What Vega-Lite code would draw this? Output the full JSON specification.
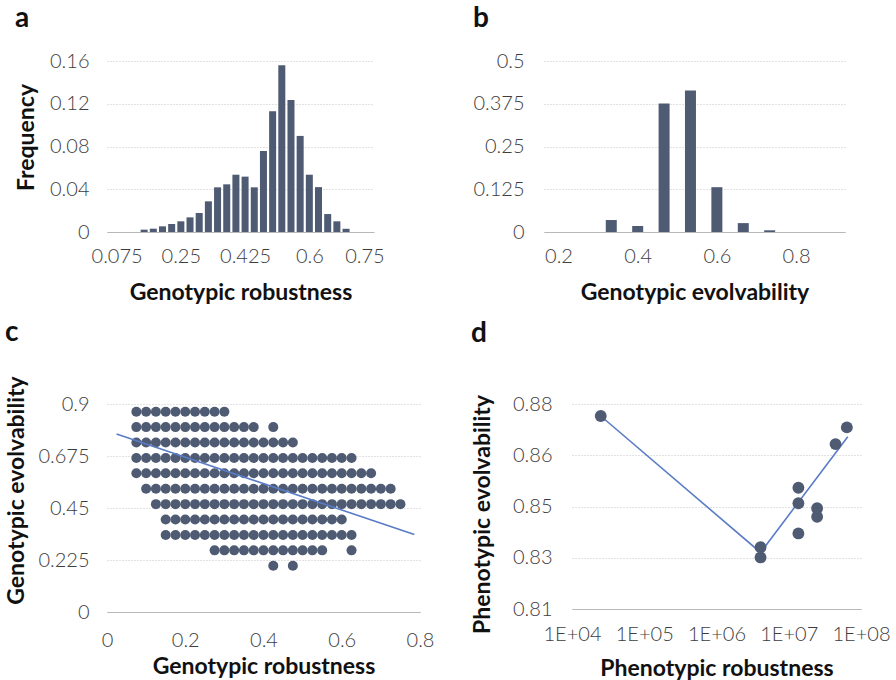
{
  "$schema": "https://vega.github.io/schema/vega-lite/v6.json",
  "background": "white",
  "padding": 5,
  "datasets": {
    "hist_a": [
      {"bin": 0.15, "freq": 0.0022}, {"bin": 0.175, "freq": 0.0031}, {"bin": 0.2, "freq": 0.0053},
      {"bin": 0.225, "freq": 0.0075}, {"bin": 0.25, "freq": 0.010}, {"bin": 0.275, "freq": 0.0137},
      {"bin": 0.3, "freq": 0.0178}, {"bin": 0.325, "freq": 0.0287}, {"bin": 0.35, "freq": 0.0418},
      {"bin": 0.375, "freq": 0.0446}, {"bin": 0.4, "freq": 0.0536}, {"bin": 0.425, "freq": 0.0518},
      {"bin": 0.45, "freq": 0.0418}, {"bin": 0.475, "freq": 0.0758}, {"bin": 0.5, "freq": 0.113},
      {"bin": 0.525, "freq": 0.156}, {"bin": 0.55, "freq": 0.1236}, {"bin": 0.575, "freq": 0.0899},
      {"bin": 0.6, "freq": 0.0536}, {"bin": 0.625, "freq": 0.042}, {"bin": 0.65, "freq": 0.0168},
      {"bin": 0.675, "freq": 0.010}, {"bin": 0.7, "freq": 0.003}
    ],
    "hist_b": [
      {"bin": 0.3333, "freq": 0.035}, {"bin": 0.4, "freq": 0.0175}, {"bin": 0.4667, "freq": 0.3755},
      {"bin": 0.5333, "freq": 0.414}, {"bin": 0.6, "freq": 0.131}, {"bin": 0.6667, "freq": 0.026},
      {"bin": 0.7333, "freq": 0.005}
    ],
    "dots_c": [
      {"r":0.075,"e":0.8667},{"r":0.1,"e":0.8667},{"r":0.125,"e":0.8667},{"r":0.15,"e":0.8667},{"r":0.175,"e":0.8667},{"r":0.2,"e":0.8667},{"r":0.225,"e":0.8667},{"r":0.25,"e":0.8667},{"r":0.275,"e":0.8667},{"r":0.3,"e":0.8667},
      {"r":0.075,"e":0.8},{"r":0.1,"e":0.8},{"r":0.125,"e":0.8},{"r":0.15,"e":0.8},{"r":0.175,"e":0.8},{"r":0.2,"e":0.8},{"r":0.225,"e":0.8},{"r":0.25,"e":0.8},{"r":0.275,"e":0.8},{"r":0.3,"e":0.8},{"r":0.325,"e":0.8},{"r":0.35,"e":0.8},{"r":0.375,"e":0.8},{"r":0.425,"e":0.8},
      {"r":0.075,"e":0.7333},{"r":0.1,"e":0.7333},{"r":0.125,"e":0.7333},{"r":0.15,"e":0.7333},{"r":0.175,"e":0.7333},{"r":0.2,"e":0.7333},{"r":0.225,"e":0.7333},{"r":0.25,"e":0.7333},{"r":0.275,"e":0.7333},{"r":0.3,"e":0.7333},{"r":0.325,"e":0.7333},{"r":0.35,"e":0.7333},{"r":0.375,"e":0.7333},{"r":0.4,"e":0.7333},{"r":0.425,"e":0.7333},{"r":0.45,"e":0.7333},{"r":0.475,"e":0.7333},
      {"r":0.075,"e":0.6667},{"r":0.1,"e":0.6667},{"r":0.125,"e":0.6667},{"r":0.15,"e":0.6667},{"r":0.175,"e":0.6667},{"r":0.2,"e":0.6667},{"r":0.225,"e":0.6667},{"r":0.25,"e":0.6667},{"r":0.275,"e":0.6667},{"r":0.3,"e":0.6667},{"r":0.325,"e":0.6667},{"r":0.35,"e":0.6667},{"r":0.375,"e":0.6667},{"r":0.4,"e":0.6667},{"r":0.425,"e":0.6667},{"r":0.45,"e":0.6667},{"r":0.475,"e":0.6667},{"r":0.5,"e":0.6667},{"r":0.525,"e":0.6667},{"r":0.55,"e":0.6667},{"r":0.575,"e":0.6667},{"r":0.6,"e":0.6667},{"r":0.625,"e":0.6667},
      {"r":0.075,"e":0.6},{"r":0.1,"e":0.6},{"r":0.125,"e":0.6},{"r":0.15,"e":0.6},{"r":0.175,"e":0.6},{"r":0.2,"e":0.6},{"r":0.225,"e":0.6},{"r":0.25,"e":0.6},{"r":0.275,"e":0.6},{"r":0.3,"e":0.6},{"r":0.325,"e":0.6},{"r":0.35,"e":0.6},{"r":0.375,"e":0.6},{"r":0.4,"e":0.6},{"r":0.425,"e":0.6},{"r":0.45,"e":0.6},{"r":0.475,"e":0.6},{"r":0.5,"e":0.6},{"r":0.525,"e":0.6},{"r":0.55,"e":0.6},{"r":0.575,"e":0.6},{"r":0.6,"e":0.6},{"r":0.625,"e":0.6},{"r":0.65,"e":0.6},{"r":0.675,"e":0.6},
      {"r":0.1,"e":0.5333},{"r":0.125,"e":0.5333},{"r":0.15,"e":0.5333},{"r":0.175,"e":0.5333},{"r":0.2,"e":0.5333},{"r":0.225,"e":0.5333},{"r":0.25,"e":0.5333},{"r":0.275,"e":0.5333},{"r":0.3,"e":0.5333},{"r":0.325,"e":0.5333},{"r":0.35,"e":0.5333},{"r":0.375,"e":0.5333},{"r":0.4,"e":0.5333},{"r":0.425,"e":0.5333},{"r":0.45,"e":0.5333},{"r":0.475,"e":0.5333},{"r":0.5,"e":0.5333},{"r":0.525,"e":0.5333},{"r":0.55,"e":0.5333},{"r":0.575,"e":0.5333},{"r":0.6,"e":0.5333},{"r":0.625,"e":0.5333},{"r":0.65,"e":0.5333},{"r":0.675,"e":0.5333},{"r":0.7,"e":0.5333},{"r":0.725,"e":0.5333},
      {"r":0.125,"e":0.4667},{"r":0.15,"e":0.4667},{"r":0.175,"e":0.4667},{"r":0.2,"e":0.4667},{"r":0.225,"e":0.4667},{"r":0.25,"e":0.4667},{"r":0.275,"e":0.4667},{"r":0.3,"e":0.4667},{"r":0.325,"e":0.4667},{"r":0.35,"e":0.4667},{"r":0.375,"e":0.4667},{"r":0.4,"e":0.4667},{"r":0.425,"e":0.4667},{"r":0.45,"e":0.4667},{"r":0.475,"e":0.4667},{"r":0.5,"e":0.4667},{"r":0.525,"e":0.4667},{"r":0.55,"e":0.4667},{"r":0.575,"e":0.4667},{"r":0.6,"e":0.4667},{"r":0.625,"e":0.4667},{"r":0.65,"e":0.4667},{"r":0.675,"e":0.4667},{"r":0.7,"e":0.4667},{"r":0.725,"e":0.4667},{"r":0.75,"e":0.4667},
      {"r":0.15,"e":0.4},{"r":0.175,"e":0.4},{"r":0.2,"e":0.4},{"r":0.225,"e":0.4},{"r":0.25,"e":0.4},{"r":0.275,"e":0.4},{"r":0.3,"e":0.4},{"r":0.325,"e":0.4},{"r":0.35,"e":0.4},{"r":0.375,"e":0.4},{"r":0.4,"e":0.4},{"r":0.425,"e":0.4},{"r":0.45,"e":0.4},{"r":0.475,"e":0.4},{"r":0.5,"e":0.4},{"r":0.525,"e":0.4},{"r":0.55,"e":0.4},{"r":0.575,"e":0.4},{"r":0.6,"e":0.4},
      {"r":0.15,"e":0.3333},{"r":0.175,"e":0.3333},{"r":0.2,"e":0.3333},{"r":0.225,"e":0.3333},{"r":0.25,"e":0.3333},{"r":0.275,"e":0.3333},{"r":0.3,"e":0.3333},{"r":0.325,"e":0.3333},{"r":0.35,"e":0.3333},{"r":0.375,"e":0.3333},{"r":0.4,"e":0.3333},{"r":0.425,"e":0.3333},{"r":0.45,"e":0.3333},{"r":0.475,"e":0.3333},{"r":0.5,"e":0.3333},{"r":0.525,"e":0.3333},{"r":0.55,"e":0.3333},{"r":0.575,"e":0.3333},{"r":0.6,"e":0.3333},{"r":0.625,"e":0.3333},
      {"r":0.275,"e":0.2667},{"r":0.3,"e":0.2667},{"r":0.325,"e":0.2667},{"r":0.35,"e":0.2667},{"r":0.375,"e":0.2667},{"r":0.4,"e":0.2667},{"r":0.425,"e":0.2667},{"r":0.45,"e":0.2667},{"r":0.475,"e":0.2667},{"r":0.5,"e":0.2667},{"r":0.525,"e":0.2667},{"r":0.55,"e":0.2667},{"r":0.625,"e":0.2667},
      {"r":0.425,"e":0.2},{"r":0.475,"e":0.2}
    ],
    "trend_c": [
      {"r": 0.0245, "e": 0.770},
      {"r": 0.7855, "e": 0.3354}
    ],
    "pts_d": [
      {"rob": 25000, "evo": 0.8759},
      {"rob": 4070000, "evo": 0.8311},
      {"rob": 4070000, "evo": 0.8276},
      {"rob": 13600000, "evo": 0.8514},
      {"rob": 13600000, "evo": 0.8461},
      {"rob": 13600000, "evo": 0.8358},
      {"rob": 24700000, "evo": 0.8444},
      {"rob": 24700000, "evo": 0.8415},
      {"rob": 44400000, "evo": 0.8663},
      {"rob": 63700000, "evo": 0.8720}
    ],
    "line_d": [
      {"rob": 25000, "evo": 0.8759, "k": 1},
      {"rob": 4070000, "evo": 0.8293, "k": 2},
      {"rob": 65600000, "evo": 0.8688, "k": 3}
    ]
  },
  "vconcat": [
    {
      "hconcat": [
        {
          "title": {"text": "a", "offset": 18},
          "width": 267,
          "height": 171,
          "data": {"name": "hist_a"},
          "mark": {"type": "bar", "size": 7, "color": "#4e5b73"},
          "encoding": {
            "x": {"field": "bin", "type": "quantitative", "scale": {"domain": [0.0625, 0.7625], "nice": false, "zero": false},
                  "axis": {"values": [0.075, 0.25, 0.425, 0.6, 0.75], "format": ".3~f", "title": "Genotypic robustness", "labelPadding": 14, "titlePadding": 15}},
            "y": {"field": "freq", "type": "quantitative", "scale": {"domain": [0, 0.16], "nice": false},
                  "axis": {"values": [0, 0.04, 0.08, 0.12, 0.16], "format": ".2~f", "title": "Frequency", "minExtent": 56, "maxExtent": 56, "titlePadding": 13, "titleY": 76}}
          }
        },
        {
          "title": {"text": "b", "offset": 18},
          "width": 301,
          "height": 171,
          "data": {"name": "hist_b"},
          "mark": {"type": "bar", "size": 11, "color": "#4e5b73"},
          "encoding": {
            "x": {"field": "bin", "type": "quantitative", "scale": {"domain": [0.176, 0.911], "nice": false, "zero": false},
                  "axis": {"values": [0.2, 0.4, 0.6, 0.8], "format": ".1f", "title": "Genotypic evolvability", "labelPadding": 14, "titlePadding": 15}},
            "y": {"field": "freq", "type": "quantitative", "scale": {"domain": [0, 0.5], "nice": false},
                  "axis": {"values": [0, 0.125, 0.25, 0.375, 0.5], "format": ".3~f", "title": null, "labelPadding": 20}}
          }
        }
      ],
      "spacing": 87
    },
    {
      "hconcat": [
        {
          "title": {"text": "c", "offset": 29},
          "width": 313,
          "height": 208,
          "layer": [
            {
              "data": {"name": "dots_c"},
              "mark": {"type": "circle", "size": 100, "opacity": 1, "color": "#4e5b73"},
              "encoding": {
                "x": {"field": "r", "type": "quantitative", "scale": {"domain": [0, 0.8], "nice": false},
                      "axis": {"values": [0, 0.2, 0.4, 0.6, 0.8], "format": ".1~f", "title": "Genotypic robustness", "labelPadding": 18, "titlePadding": 5}},
                "y": {"field": "e", "type": "quantitative", "scale": {"domain": [0, 0.9], "nice": false},
                      "axis": {"values": [0, 0.225, 0.45, 0.675, 0.9], "format": ".3~f", "title": "Genotypic evolvability", "minExtent": 66, "maxExtent": 66, "titlePadding": 13, "titleY": 86}}
              }
            },
            {
              "data": {"name": "trend_c"},
              "mark": {"type": "line", "color": "#5a7cc6", "strokeWidth": 1.6},
              "encoding": {
                "x": {"field": "r", "type": "quantitative"},
                "y": {"field": "e", "type": "quantitative"}
              }
            }
          ]
        },
        {
          "title": {"text": "d", "offset": 46},
          "width": 289,
          "height": 205,
          "layer": [
            {
              "data": {"name": "line_d"},
              "mark": {"type": "line", "color": "#5a7cc6", "strokeWidth": 1.6},
              "encoding": {
                "x": {"field": "rob", "type": "quantitative", "scale": {"type": "log", "domain": [10000, 100000000], "nice": false},
                      "axis": {"values": [10000, 100000, 1000000, 10000000, 100000000], "labelExpr": "'1E+0' + format(log(datum.value)/LN10, '.0f')", "labelOverlap": false, "labelBound": false, "title": "Phenotypic robustness", "labelPadding": 15, "titlePadding": 13}},
                "y": {"field": "evo", "type": "quantitative", "scale": {"domain": [0.81, 0.88], "nice": false, "zero": false},
                      "axis": {"values": [0.81, 0.8275, 0.845, 0.8625, 0.88], "labelExpr": "format(datum.value + 0.0001, '.2f')", "title": "Phenotypic evolvability", "labelPadding": 20, "minExtent": 57, "maxExtent": 57, "titlePadding": 21, "titleY": 110}},
                "order": {"field": "k"}
              }
            },
            {
              "data": {"name": "pts_d"},
              "mark": {"type": "circle", "size": 140, "opacity": 1, "color": "#4e5b73"},
              "encoding": {
                "x": {"field": "rob", "type": "quantitative"},
                "y": {"field": "evo", "type": "quantitative"}
              }
            }
          ]
        }
      ],
      "spacing": 36
    }
  ],
  "spacing": 14,
  "config": {
    "view": {"stroke": null},
    "font": "Lato",
    "axis": {
      "labelFont": "Lato Light, Lato", "labelFontSize": 20, "labelFontWeight": 300, "labelColor": "#3d3d3d", "labelFlush": false,
      "titleFont": "Lato", "titleFontSize": 23, "titleFontWeight": "bold", "titleColor": "#111111",
      "ticks": false, "gridColor": "#c4c4c4", "gridDash": [1, 2], "gridWidth": 1,
      "domainColor": "#b8b8b8", "labelPadding": 18, "titlePadding": 14
    },
    "axisX": {"grid": false, "labelPadding": 12, "titlePadding": 15},
    "axisY": {"domain": false},
    "title": {"fontSize": 28, "fontWeight": "bold", "anchor": "start", "frame": "bounds", "font": "Lato", "color": "#111111"}
  }
}
